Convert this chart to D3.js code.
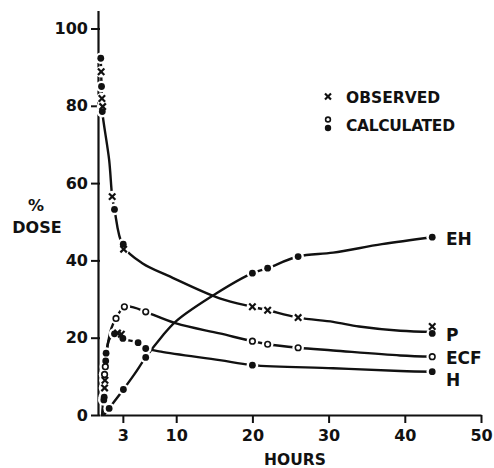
<!DOCTYPE html>
<html><head><meta charset="utf-8">
<script src="https://cdn.jsdelivr.net/npm/d3@7"></script>
<style>
html,body{margin:0;padding:0;background:#fff;}
text{font-family:"DejaVu Sans",sans-serif;font-weight:bold;fill:#111;}
</style></head><body>
<svg id="c" width="494" height="468"></svg>
<script>
// ---- data (hours, % dose) ----
const xTicks = [3, 10, 20, 30, 40, 50];
const yTicks = [0, 20, 40, 60, 80, 100];
const seriesNames = ["EH", "P", "ECF", "H"];
const legendLabels = ["OBSERVED", "CALCULATED"];

// smooth curves
const curveP   = [[0.1,92.3],[0.15,88.8],[0.2,85],[0.25,81.9],[0.3,78.5],[1.2,66],[1.6,56.5],[1.9,53.2],[3.05,43.6],[5.6,39.2],[9,36],[15.7,30.2],[20,28],[22,27.1],[26,25.2],[30.6,24.1],[34,22.9],[39.4,21.8],[43.6,21.5]];
const curveECF = [[0.3,0],[0.6,10.5],[0.7,12.5],[1.0,18],[1.5,22.5],[2.1,25],[3.2,28],[4.5,27.8],[6,26.7],[10,23.7],[15.7,21.1],[20,19.1],[22,18.3],[26,17.4],[30.6,16.7],[39.4,15.4],[43.6,15.1]];
const curveH   = [[0.3,0],[0.55,4.5],[0.65,9],[0.8,15.5],[1.2,19.5],[1.9,21],[2.6,20.6],[3.0,19.8],[5,18.7],[6,17.3],[8,16.4],[15.7,14.2],[20,12.9],[30.6,12.1],[39.4,11.4],[43.6,11.2]];
const curveEH  = [[0.5,0],[1.2,1.7],[2,3.8],[3.07,6.6],[4.5,10.5],[6,14.9],[8,20],[10,24.3],[15.3,31.5],[20,36.7],[22,38],[26,41],[30.6,42.0],[37,44.2],[43.6,46]];

// markers
const obsP    = [[0.15,88.8],[0.25,81.9],[0.35,79.8],[1.6,56.5],[3.1,42.9],[20,28],[22,27.1],[26,25.2],[43.6,22.9]];
const calcP   = [[0.1,92.3],[0.2,85],[0.3,78.5],[1.9,53.2],[3.05,44.2],[43.6,21.1]];
const calcECF = [[0.6,10.5],[0.7,12.5],[2.1,25],[3.2,28],[6,26.7],[20,19.1],[22,18.3],[26,17.4],[43.6,15.1]];
const calcH   = [[0.5,3.9],[0.55,4.6],[0.75,14],[0.8,16],[1.9,21],[3.0,19.8],[5,18.7],[6,17.2],[20,12.9],[43.6,11.2]];
const obsH    = [[0.6,7],[0.65,9],[2.3,21.2],[2.8,20.9]];
const calcEH  = [[1.2,1.7],[3.07,6.6],[6,14.9],[20,36.7],[22,38],[26,41],[43.6,46]];

// ---- chart ----
const svg = d3.select("#c");
svg.append("rect").attr("width",494).attr("height",468).attr("fill","#fff");
const x = d3.scaleLinear().domain([0,50]).range([100,481]);
const y = d3.scaleLinear().domain([0,100]).range([415,28.5]);

// axes
const gx = svg.append("g").attr("transform",`translate(0,${y(0)})`)
  .call(d3.axisBottom(x).tickValues(xTicks).tickSize(8).tickSizeOuter(0).tickPadding(7));
gx.select(".domain").attr("stroke","#111").attr("stroke-width",2);
gx.selectAll(".tick line").attr("stroke","#111").attr("stroke-width",2);
gx.selectAll(".tick text").attr("font-size",16).style("font-family","DejaVu Sans").style("font-weight","bold").attr("fill","#111");

const gy = svg.append("g").attr("transform",`translate(${x(0)},0)`)
  .call(d3.axisLeft(y).tickValues(yTicks).tickSize(9).tickSizeOuter(0).tickPadding(3));
gy.select(".domain").remove();
gy.selectAll(".tick line").attr("stroke","#111").attr("stroke-width",2);
gy.selectAll(".tick text").attr("font-size",16).style("font-family","DejaVu Sans").style("font-weight","bold").attr("fill","#111");
svg.append("line").attr("x1",x(0)-1.5).attr("x2",x(0)-1.5).attr("y1",y(0)).attr("y2",y(104.5))
  .attr("stroke","#111").attr("stroke-width",2.2);

// axis titles
svg.append("text").attr("x",295).attr("y",465).attr("text-anchor","middle").attr("font-size",15.5).text("HOURS");
svg.append("text").attr("x",36).attr("y",211).attr("text-anchor","middle").attr("font-size",16).text("%");
svg.append("text").attr("x",37).attr("y",233).attr("text-anchor","middle").attr("font-size",16).text("DOSE");

// curves
const line = d3.line().x(d=>x(d[0])).y(d=>y(d[1])).curve(d3.curveCatmullRom.alpha(0.5));
[curveP, curveECF, curveH, curveEH].forEach(c=>{
  svg.append("path").attr("d",line(c)).attr("fill","none").attr("stroke","#111").attr("stroke-width",2.4);
});

// marker halos (gaps in line around markers)
const allMarks = [].concat(obsP,calcP,calcECF,calcH,obsH,calcEH);
svg.append("g").selectAll("circle").data(allMarks).join("circle")
  .attr("cx",d=>x(d[0])).attr("cy",d=>y(d[1])).attr("r",5.8).attr("fill","#fff");

function dots(data, r){
  svg.append("g").selectAll("circle").data(data).join("circle")
    .attr("cx",d=>x(d[0])).attr("cy",d=>y(d[1])).attr("r",r).attr("fill","#111");
}
function opens(data){
  svg.append("g").selectAll("circle").data(data).join("circle")
    .attr("cx",d=>x(d[0])).attr("cy",d=>y(d[1])).attr("r",2.8)
    .attr("fill","#fff").attr("stroke","#111").attr("stroke-width",1.6);
}
function crosses(data){
  const s = 3.2;
  const g = svg.append("g").attr("stroke","#111").attr("stroke-width",2.2);
  data.forEach(d=>{
    const cx=x(d[0]), cy=y(d[1]);
    g.append("line").attr("x1",cx-s).attr("y1",cy-s).attr("x2",cx+s).attr("y2",cy+s);
    g.append("line").attr("x1",cx-s).attr("y1",cy+s).attr("x2",cx+s).attr("y2",cy-s);
  });
}
dots(calcP,3.4); dots(calcH,3.4); dots(calcEH,3.4);
opens(calcECF);
crosses(obsP); crosses(obsH);

// curve labels
const labelPos = [[446,245,"EH"],[446,341,"P"],[446,364,"ECF"],[446,386,"H"]];
labelPos.forEach((p,i)=>svg.append("text").attr("x",p[0]).attr("y",p[1]).attr("font-size",17).text(seriesNames[i]));

// legend
const lx = 328;
(function(){
  const s=3, cy=96.5;
  svg.append("line").attr("x1",lx-s).attr("y1",cy-s).attr("x2",lx+s).attr("y2",cy+s).attr("stroke","#111").attr("stroke-width",2.2);
  svg.append("line").attr("x1",lx-s).attr("y1",cy+s).attr("x2",lx+s).attr("y2",cy-s).attr("stroke","#111").attr("stroke-width",2.2);
  svg.append("circle").attr("cx",lx).attr("cy",119.5).attr("r",2.4).attr("fill","#fff").attr("stroke","#111").attr("stroke-width",1.6);
  svg.append("circle").attr("cx",lx).attr("cy",128).attr("r",3.2).attr("fill","#111");
})();
svg.append("text").attr("x",346).attr("y",102.5).attr("font-size",15.5).text(legendLabels[0]);
svg.append("text").attr("x",346).attr("y",131).attr("font-size",15.5).attr("textLength",109).text(legendLabels[1]);
</script>
</body></html>
